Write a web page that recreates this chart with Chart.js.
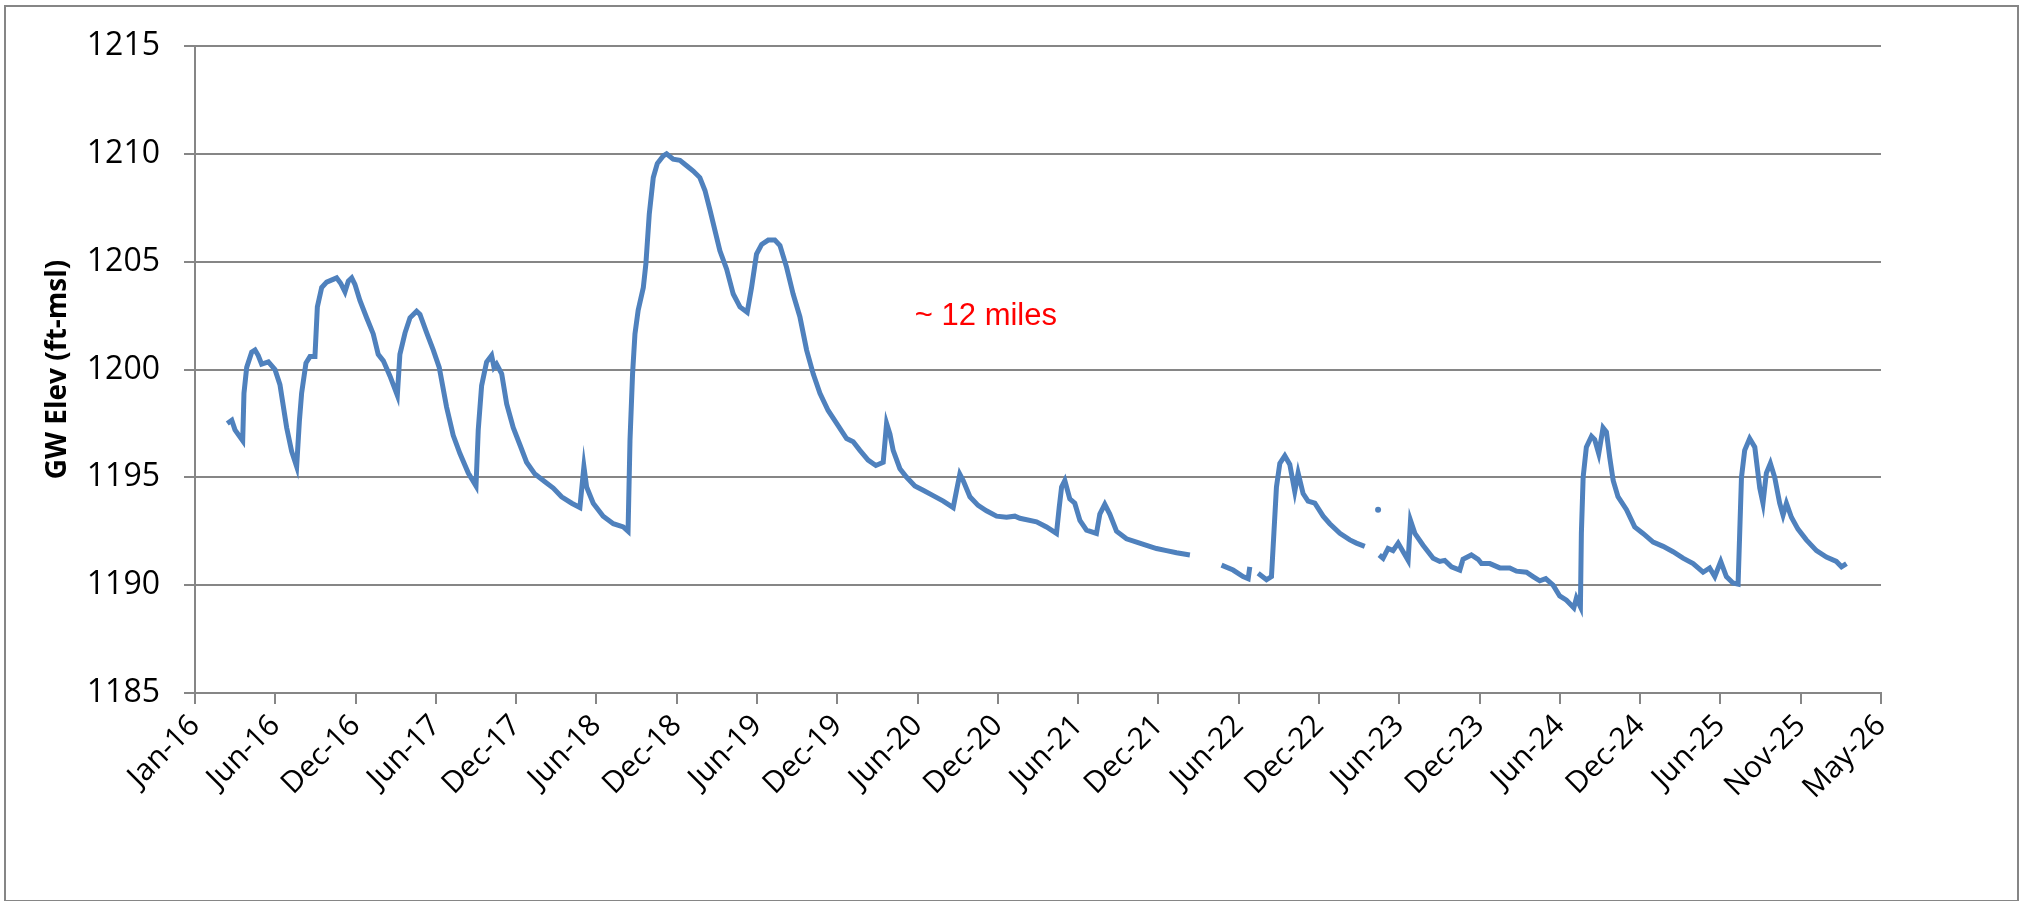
<!DOCTYPE html>
<html>
<head>
<meta charset="utf-8">
<title>GW Elev</title>
<script src="https://cdn.jsdelivr.net/npm/chart.js@4/dist/chart.umd.min.js"></script>
<style>
    html, body { margin: 0; padding: 0; background: #fff; }
    #wrap { width: 2021px; height: 901px; }
</style>
</head>
<body>
<div id="wrap"><canvas id="gw" width="2021" height="901"></canvas></div>
<script>
// tick labels of the date axis, one every half year from the start
var tickLabels = ['Jan-16', 'Jun-16', 'Dec-16', 'Jun-17', 'Dec-17', 'Jun-18', 'Dec-18',
		  'Jun-19', 'Dec-19', 'Jun-20', 'Dec-20', 'Jun-21', 'Dec-21', 'Jun-22',
		  'Dec-22', 'Jun-23', 'Dec-23', 'Jun-24', 'Dec-24', 'Jun-25', 'Nov-25', 'May-26'];
var startYear = 2016;
var tickStep = 0.5;

// time in decimal years, null = gap in the record
var years = [
    2016.201, 2016.229, 2016.249, 2016.297, 2016.305, 2016.322, 2016.353, 2016.374, 2016.394, 2016.415,
    2016.457, 2016.498, 2016.529, 2016.571, 2016.602, 2016.633, 2016.650, 2016.664, 2016.691, 2016.716,
    2016.747, 2016.762, 2016.789, 2016.820, 2016.882, 2016.907, 2016.934, 2016.955, 2016.976, 2016.996,
    2017.027, 2017.069, 2017.110, 2017.141, 2017.173, 2017.214, 2017.260, 2017.276, 2017.308, 2017.339,
    2017.380, 2017.401, 2017.443, 2017.484, 2017.521, 2017.567, 2017.608, 2017.650, 2017.702, 2017.750,
    2017.764, 2017.785, 2017.816, 2017.847, 2017.862, 2017.878, 2017.910, 2017.941, 2017.982, 2018.024,
    2018.065, 2018.117, 2018.179, 2018.231, 2018.283, 2018.346, 2018.397, 2018.422, 2018.439, 2018.480,
    2018.542, 2018.605, 2018.667, 2018.697, 2018.709, 2018.725, 2018.740, 2018.760, 2018.792, 2018.808,
    2018.829, 2018.854, 2018.879, 2018.916, 2018.937, 2018.978, 2019.020, 2019.062, 2019.103, 2019.144,
    2019.176, 2019.207, 2019.238, 2019.269, 2019.311, 2019.352, 2019.394, 2019.439, 2019.466, 2019.497,
    2019.529, 2019.570, 2019.611, 2019.643, 2019.684, 2019.725, 2019.767, 2019.809, 2019.850, 2019.892,
    2019.943, 2019.996, 2020.058, 2020.099, 2020.141, 2020.192, 2020.240, 2020.286, 2020.307, 2020.328,
    2020.348, 2020.390, 2020.432, 2020.483, 2020.535, 2020.597, 2020.660, 2020.722, 2020.743, 2020.763,
    2020.784, 2020.826, 2020.877, 2020.929, 2020.992, 2021.054, 2021.106, 2021.137, 2021.241, 2021.303,
    2021.365, 2021.382, 2021.397, 2021.417, 2021.448, 2021.479, 2021.511, 2021.552, 2021.614, 2021.635,
    2021.666, 2021.697, 2021.739, 2021.801, 2021.864, 2021.926, 2021.988, 2022.050, 2022.113, 2022.196,
    2022.290,
    2022.393, 2022.465, 2022.527, 2022.559, 2022.569,
    2022.595,
    2022.621, 2022.673, 2022.704, 2022.719, 2022.735, 2022.756, 2022.787, 2022.818, 2022.849, 2022.870,
    2022.901, 2022.932, 2022.974, 2023.026, 2023.067, 2023.130, 2023.192, 2023.233, 2023.285,
    2023.330,
    2023.368,
    2023.372,
    2023.375, 2023.399, 2023.430, 2023.461, 2023.493, 2023.524, 2023.555, 2023.570, 2023.597, 2023.648,
    2023.711, 2023.752, 2023.783, 2023.825, 2023.877, 2023.897, 2023.949, 2023.991, 2024.012, 2024.064,
    2024.126, 2024.188, 2024.230, 2024.292, 2024.333, 2024.375, 2024.412, 2024.458, 2024.499, 2024.541,
    2024.587, 2024.603, 2024.628, 2024.634, 2024.645, 2024.665, 2024.697, 2024.717, 2024.742, 2024.769,
    2024.790, 2024.811, 2024.832, 2024.862, 2024.915, 2024.966, 2025.018, 2025.081, 2025.143, 2025.205,
    2025.267, 2025.330, 2025.392, 2025.433, 2025.465, 2025.502, 2025.537, 2025.578, 2025.610, 2025.620,
    2025.631, 2025.651, 2025.682, 2025.714, 2025.745, 2025.765, 2025.786, 2025.811, 2025.838, 2025.869,
    2025.890, 2025.911, 2025.942, 2025.983, 2026.035, 2026.098, 2026.160, 2026.222, 2026.254, 2026.285
];

// GW elevation (ft-msl)
var elev = [
    1197.5, 1197.65, 1197.2, 1196.7, 1198.9, 1200.1, 1200.8, 1200.9, 1200.65, 1200.25,
    1200.35, 1200.0, 1199.3, 1197.3, 1196.2, 1195.5, 1197.6, 1198.9, 1200.3, 1200.6,
    1200.6, 1202.9, 1203.8, 1204.05, 1204.25, 1204.0, 1203.6, 1204.1, 1204.25, 1203.95,
    1203.2, 1202.4, 1201.65, 1200.7, 1200.4, 1199.7, 1198.8, 1200.7, 1201.7, 1202.4,
    1202.7, 1202.55, 1201.7, 1200.9, 1200.1, 1198.25, 1196.95, 1196.1, 1195.2, 1194.6,
    1197.2, 1199.25, 1200.35, 1200.65, 1200.1, 1200.25, 1199.8, 1198.4, 1197.3, 1196.5,
    1195.7, 1195.15, 1194.8, 1194.5, 1194.1, 1193.8, 1193.6, 1195.5, 1194.55, 1193.8,
    1193.2, 1192.85, 1192.7, 1192.5, 1196.7, 1199.8, 1201.65, 1202.75, 1203.8, 1204.9,
    1207.2, 1208.9, 1209.55, 1209.9, 1210.0, 1209.75, 1209.7, 1209.45, 1209.2, 1208.9,
    1208.3, 1207.4, 1206.45, 1205.5, 1204.65, 1203.5, 1202.9, 1202.65, 1203.8, 1205.35,
    1205.8, 1206.0, 1206.0, 1205.75, 1204.75, 1203.5, 1202.45, 1200.9, 1199.8, 1198.9,
    1198.1, 1197.5, 1196.8, 1196.65, 1196.25, 1195.8, 1195.55, 1195.7, 1197.5, 1197.0,
    1196.25, 1195.4, 1195.0, 1194.6, 1194.4, 1194.15, 1193.9, 1193.6, 1194.4, 1195.15,
    1194.85, 1194.1, 1193.7, 1193.45, 1193.2, 1193.15, 1193.2, 1193.1, 1192.94, 1192.7,
    1192.4, 1193.6, 1194.55, 1194.85, 1194.0, 1193.8, 1193.0, 1192.55, 1192.4, 1193.3,
    1193.75, 1193.3, 1192.5, 1192.15, 1192.0, 1191.85, 1191.7, 1191.6, 1191.5, 1191.4,
    null,
    1190.93, 1190.7, 1190.4, 1190.3, 1190.85,
    null,
    1190.55, 1190.25, 1190.4, 1192.4, 1194.55, 1195.65, 1196.0, 1195.6, 1194.35, 1195.2,
    1194.25, 1193.9, 1193.8, 1193.2, 1192.85, 1192.4, 1192.1, 1191.95, 1191.8,
    null,
    1193.5,
    null,
    1191.4, 1191.25, 1191.7, 1191.6, 1191.95, 1191.55, 1191.15, 1193.0, 1192.4, 1191.85,
    1191.25, 1191.1, 1191.15, 1190.85, 1190.7, 1191.2, 1191.4, 1191.2, 1191.0, 1191.0,
    1190.8, 1190.8, 1190.65, 1190.6, 1190.4, 1190.2, 1190.3, 1190.0, 1189.5, 1189.3,
    1188.95, 1189.4, 1189.0, 1192.4, 1195.0, 1196.4, 1196.9, 1196.75, 1196.1, 1197.3,
    1197.1, 1195.9, 1194.85, 1194.1, 1193.5, 1192.7, 1192.4, 1192.0, 1191.8, 1191.55,
    1191.25, 1191.0, 1190.6, 1190.8, 1190.4, 1191.1, 1190.4, 1190.1, 1190.05, 1192.4,
    1195.0, 1196.25, 1196.8, 1196.4, 1194.5, 1193.8, 1195.2, 1195.65, 1195.0, 1193.8,
    1193.25, 1193.8, 1193.15, 1192.6, 1192.1, 1191.6, 1191.3, 1191.1, 1190.85, 1191.0
];

// red note on the plot, placed in data units
var noteText = '~ 12 miles';
var noteYear = 2020.483;
var noteElev = 1202.48;

var gridGray = '#868686';
var points = years.map((x, i) => ({ x: x, y: elev[i] }));

// a reading with gaps on both sides is shown as a dot
function isLonely(i) {
    if (elev[i] === null) return false;
    var before = i === 0 || elev[i - 1] === null;
    var after = i === elev.length - 1 || elev[i + 1] === null;
    return before && after;
}

var chartBorder = {
    id: 'chartBorder',
    afterDraw(chart) {
	var c = chart.ctx;
	c.save();
	c.strokeStyle = gridGray;
	c.lineWidth = 2;
	c.strokeRect(5, 6, 2013, 895);
	c.restore();
    }
};

var note = {
    id: 'note',
    afterDatasetsDraw(chart) {
	var c = chart.ctx;
	c.save();
	c.fillStyle = '#ff0000';
	c.font = '31px "Liberation Sans", Arial, sans-serif';
	c.textAlign = 'left';
	c.textBaseline = 'middle';
	c.fillText(noteText, chart.scales.x.getPixelForValue(noteYear), chart.scales.y.getPixelForValue(noteElev));
	c.restore();
    }
};

var ctx = document.getElementById('gw');
var chart = new Chart(ctx, {
    type: 'line',
    data: {
	datasets: [{
	    label: 'GW Elev',
	    data: points,
	    borderColor: '#4f81bd',
	    backgroundColor: '#4f81bd',
	    borderWidth: 5,
	    tension: 0,
	    spanGaps: false,
	    fill: false,
	    pointRadius: (c) => isLonely(c.dataIndex) ? 3 : 0,
	    pointBorderWidth: 0
	}]
    },
    options: {
	responsive: false,
	animation: false,
	devicePixelRatio: 1,
	layout: {
	    padding: { left: 8, top: 46, right: 140, bottom: 0 }
	},
	scales: {
	    x: {
		type: 'linear',
		min: startYear,
		max: startYear + (tickLabels.length - 1) * tickStep,
		afterBuildTicks: (scale) => {
		    scale.ticks = tickLabels.map((t, i) => ({ value: startYear + i * tickStep }));
		},
		afterFit: (scale) => {
		    scale.height = 901 - 693; // plot bottom sits at y=693
		},
		ticks: {
		    autoSkip: false,
		    minRotation: 45,
		    maxRotation: 45,
		    padding: 4,
		    color: '#000',
		    font: { family: '"Open Sans", sans-serif', size: 30 },
		    callback: (value, index) => tickLabels[index]
		},
		grid: {
		    drawOnChartArea: false,
		    drawTicks: true,
		    tickLength: 11,
		    color: gridGray,
		    lineWidth: 2
		},
		border: { display: true, color: gridGray, width: 2 }
	    },
	    y: {
		min: 1185,
		max: 1215,
		afterFit: (scale) => {
		    scale.width = 195 - 8; // plot left edge at x=195
		},
		ticks: {
		    stepSize: 5,
		    padding: 24,
		    color: '#000',
		    font: { family: '"Open Sans", sans-serif', size: 32 },
		    callback: (value) => String(value) // no thousands separator
		},
		grid: {
		    color: gridGray,
		    lineWidth: 2,
		    tickLength: 11
		},
		border: { display: true, color: gridGray, width: 2 },
		title: {
		    display: true,
		    text: 'GW Elev (ft-msl)',
		    color: '#000',
		    padding: { top: 33, bottom: 0 },
		    font: { family: '"Open Sans", sans-serif', size: 28, weight: 'bold' }
		}
	    }
	},
	plugins: {
	    legend: { display: false },
	    tooltip: { enabled: false }
	}
    },
    plugins: [chartBorder, note]
});
</script>
</body>
</html>
